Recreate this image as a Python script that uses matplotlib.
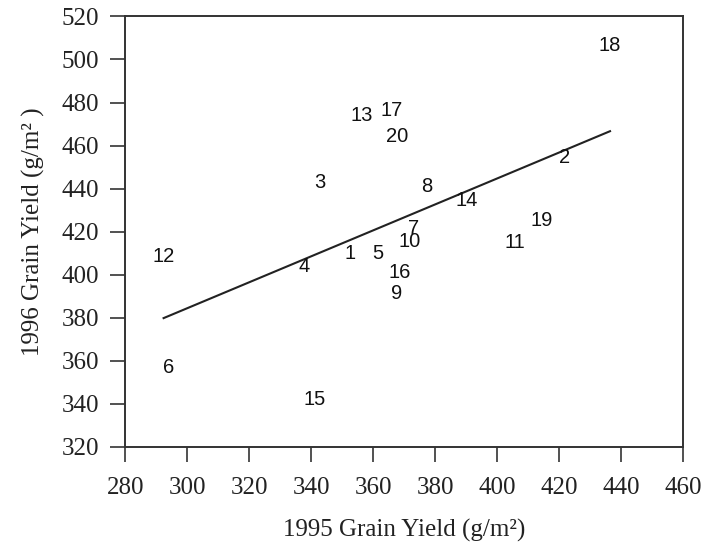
import numpy as np
import matplotlib.pyplot as plt

# Plot numbers and their grain yields (g/m2) in the two seasons
plots = [str(i) for i in range(1, 21)]
yield_1995 = [352.5, 421.8, 342.8, 337.6, 361.3, 293.9, 372.9, 377.1, 367.4, 371.6,
              405.6, 292.3, 356.1, 390.0, 341.2, 368.4, 365.8, 436.4, 414.3, 367.7]
yield_1996 = [410.0, 454.3, 443.0, 403.9, 410.0, 356.8, 421.6, 441.2, 391.3, 415.6,
              415.1, 408.6, 473.8, 434.7, 341.9, 401.1, 476.2, 506.5, 425.4, 464.0]

x_ticks = list(range(280, 461, 20))
y_ticks = list(range(320, 521, 20))

serif = ['Liberation Serif', 'DejaVu Serif']
sans = ['Liberation Sans', 'DejaVu Sans']

fig = plt.figure(figsize=(7.05, 5.47), dpi=100)
ax = fig.add_axes([0.178, 0.183, 0.791, 0.787])

# plot numbers written at their data positions
for name, x, y in zip(plots, yield_1995, yield_1996):
    ax.text(x, y, name, ha='center', va='center', fontsize=14.5, family=sans, color='#111111')

# least-squares line across the range of 1995 yields
xs = np.array(yield_1995)
slope, intercept = np.polyfit(xs, np.array(yield_1996), 1)
line_x = np.array([xs.min(), xs.max()])
ax.plot(line_x, slope * line_x + intercept, color='#222222', lw=1.5)

ax.set_xlim(280, 460)
ax.set_ylim(320, 520)
ax.set_xticks(x_ticks)
ax.set_yticks(y_ticks)
ax.tick_params(direction='out', length=11, width=1.2, color='#333333', labelsize=18)
ax.tick_params(axis='y', pad=8)
ax.tick_params(axis='x', pad=11)
for lab in ax.get_xticklabels() + ax.get_yticklabels():
    lab.set_family(serif)
    lab.set_color('#222222')
for side in ax.spines.values():
    side.set_linewidth(1.4)
    side.set_color('#333333')

ax.set_xlabel('1995 Grain Yield (g/m²)', fontsize=18, family=serif, labelpad=14, color='#222222')
ax.set_ylabel('1996 Grain Yield (g/m² )', fontsize=18, family=serif, labelpad=12, color='#222222')

fig.savefig('out.png', dpi=100)
